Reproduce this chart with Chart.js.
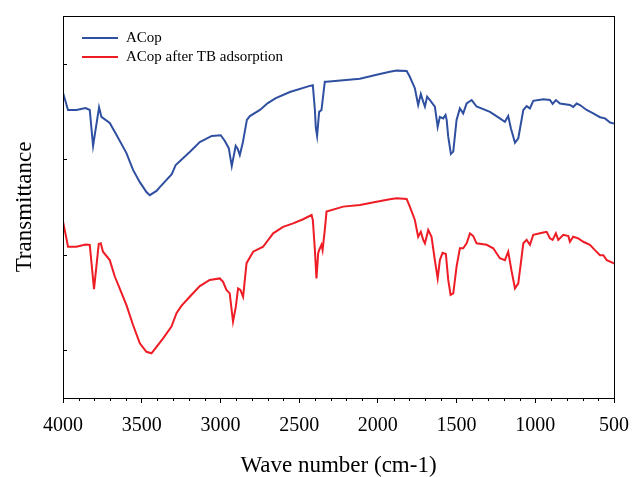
<!DOCTYPE html>
<html><head><meta charset="utf-8">
<script src="https://cdn.jsdelivr.net/npm/chart.js@4/dist/chart.umd.min.js"></script>
<style>html,body{margin:0;padding:0;background:#fff}#wrap{width:633px;height:477px}</style>
</head><body><div id="wrap"><canvas id="c" width="633" height="477"></canvas></div>
<script>
const seriesNames = ['ACop', 'ACop after TB adsorption'];
const seriesColors = ['#2f4fa0', '#ee1c25'];

const wnACop = [4000,3968,3915,3856,3830,3809,3771,3756,3703,3659,3597,3555,3512,3470,3449,3406,3385,3309,3284,3195,3131,3055,2998,2972,2947,2928,2903,2890,2877,2858,2832,2813,2749,2699,2648,2559,2432,2413,2400,2394,2386,2373,2358,2337,2326,2220,2114,2008,1924,1881,1817,1797,1765,1744,1727,1712,1701,1687,1669,1638,1620,1606,1585,1570,1563,1553,1536,1521,1500,1479,1458,1436,1404,1373,1288,1225,1193,1172,1155,1129,1108,1076,1055,1034,1013,949,907,890,869,843,780,759,737,716,674,632,589,557,525,504,500];
const tACop = [79.9,75.4,75.4,75.9,75.4,66.0,76.1,73.6,72.0,68.8,64.1,59.7,56.5,53.9,53.1,54.2,55.2,58.6,61.0,64.4,67.0,68.6,68.8,67.3,65.4,60.7,66.0,65.2,63.6,66.8,72.8,73.8,75.4,77.2,78.5,80.1,81.7,81.9,75.4,70.7,68.6,74.9,75.4,82.8,82.8,83.2,83.6,84.6,85.4,85.7,85.6,84.1,81.1,76.7,79.6,77.6,76.3,78.9,78.0,76.3,71.0,73.6,73.2,74.1,72.8,68.4,63.9,64.5,72.8,75.8,74.5,77.1,78.0,76.3,74.9,73.2,72.3,73.8,70.6,66.8,68.0,75.4,76.4,75.8,77.8,78.2,78.0,77.0,78.0,77.1,76.7,76.2,77.1,76.7,75.4,74.5,73.5,73.2,72.1,71.9,71.8];

const wnTB = [4000,3968,3915,3856,3830,3803,3773,3760,3746,3703,3671,3640,3597,3555,3512,3470,3438,3406,3364,3311,3279,3248,3195,3131,3068,3004,2983,2962,2941,2920,2902,2888,2873,2856,2834,2792,2729,2665,2602,2538,2475,2421,2413,2400,2390,2379,2373,2358,2351,2337,2326,2220,2114,2008,1924,1881,1817,1797,1765,1744,1727,1712,1701,1680,1659,1638,1620,1606,1589,1568,1553,1538,1521,1500,1479,1458,1436,1415,1394,1373,1309,1267,1225,1193,1172,1150,1129,1108,1076,1055,1034,1013,949,928,907,890,869,854,822,790,780,759,727,695,653,621,589,568,546,504,500];
const tTB = [46.2,39.6,39.6,40.2,40.1,28.5,40.3,40.5,38.3,36.1,31.8,28.7,24.3,19.1,14.3,12.1,11.7,13.4,15.6,18.7,22.2,24.1,26.5,29.3,30.9,31.3,30.4,28.3,27.4,20.0,23.9,28.7,28.3,26.5,35.3,38.3,39.6,43.1,44.8,45.7,46.8,47.9,46.6,38.7,31.3,37.9,38.7,40.1,38.7,44.0,48.8,50.1,50.5,51.4,52.0,52.3,52.1,50.1,46.6,42.2,43.5,41.4,40.5,44.0,42.2,36.1,31.3,36.1,38.0,37.7,30.9,27.0,27.4,34.4,39.2,39.2,40.5,43.1,42.4,40.5,40.1,39.2,36.6,36.1,38.3,33.1,28.7,30.0,40.5,41.4,40.1,42.7,43.3,43.5,41.8,41.4,43.1,41.4,42.7,42.4,40.9,42.2,41.8,40.9,40.1,38.7,37.4,37.4,36.1,35.3,35.2];

const xMajorTicks = [4000, 3500, 3000, 2500, 2000, 1500, 1000, 500];
const xMinorStep = 100;
const yTickValues = [12.5, 37.5, 62.5, 87.5];
const xTitle = 'Wave number (cm-1)';
const yTitle = 'Transmittance';

const serif = '"Liberation Serif", "Times New Roman", serif';

function toPoints(xs, ys) {
  const n = Math.min(xs.length, ys.length);
  const out = [];
  for (let i = 0; i < n; i++) out.push({x: xs[i], y: ys[i]});
  return out;
}

const framePlugin = {
  id: 'frame',
  afterDraw(chart) {
    const {ctx, chartArea: a, scales: {x, y}} = chart;
    ctx.save();
    ctx.strokeStyle = '#000';
    ctx.lineWidth = 1;
    ctx.strokeRect(Math.round(a.left) + 0.5, Math.round(a.top) + 0.5,
                   Math.round(a.right - a.left), Math.round(a.bottom - a.top));
    ctx.beginPath();
    for (let v = x.min + xMinorStep; v < x.max; v += xMinorStep) {
      if (xMajorTicks.includes(v)) continue;
      const px = Math.round(x.getPixelForValue(v)) + 0.5;
      ctx.moveTo(px, a.bottom);
      ctx.lineTo(px, a.bottom + 3);
    }
    yTickValues.forEach(v => {
      const py = Math.round(y.getPixelForValue(v)) + 0.5;
      ctx.moveTo(a.left, py);
      ctx.lineTo(a.left + 4, py);
    });
    ctx.stroke();
    ctx.font = '15px ' + serif;
    ctx.textBaseline = 'middle';
    ctx.textAlign = 'left';
    chart.data.datasets.forEach((ds, i) => {
      const ly = a.top + 22 + i * 19;
      ctx.strokeStyle = ds.borderColor;
      ctx.lineWidth = 2;
      ctx.beginPath();
      ctx.moveTo(a.left + 19, ly);
      ctx.lineTo(a.left + 55, ly);
      ctx.stroke();
      ctx.fillStyle = '#000';
      ctx.fillText(ds.label, a.left + 63, ly);
    });
    ctx.restore();
  }
};

new Chart(document.getElementById('c'), {
  type: 'line',
  data: {
    datasets: [
      {label: seriesNames[0], data: toPoints(wnACop, tACop), borderColor: seriesColors[0], backgroundColor: seriesColors[0], borderWidth: 2, pointRadius: 0, tension: 0, fill: false},
      {label: seriesNames[1], data: toPoints(wnTB, tTB), borderColor: seriesColors[1], backgroundColor: seriesColors[1], borderWidth: 2, pointRadius: 0, tension: 0, fill: false}
    ]
  },
  options: {
    responsive: false,
    animation: false,
    devicePixelRatio: 1,
    layout: {padding: {top: 16, right: 19, left: 0, bottom: 0}},
    plugins: {legend: {display: false}, tooltip: {enabled: false}},
    scales: {
      x: {
        type: 'linear', position: 'bottom', reverse: true, min: 500, max: 4000,
        afterBuildTicks: s => { s.ticks = xMajorTicks.map(v => ({value: v})); },
        afterFit: s => { s.height = 79; s.paddingLeft = 0; s.paddingRight = 0; },
        ticks: {font: {family: serif, size: 20}, color: '#000', padding: 11, maxRotation: 0, autoSkip: false,
                callback: v => String(v)},
        grid: {display: true, drawOnChartArea: false, drawTicks: true, tickLength: 5, color: '#000'},
        border: {display: false},
        title: {display: true, text: xTitle, color: '#000', font: {family: serif, size: 23, lineHeight: 1}, padding: {top: 0, bottom: 0}}
      },
      y: {
        type: 'linear', position: 'left', min: 0, max: 100,
        afterBuildTicks: s => { s.ticks = yTickValues.map(v => ({value: v})); },
        afterFit: s => { s.width = 63; },
        ticks: {display: false},
        grid: {display: false},
        border: {display: false},
        title: {display: true, text: yTitle, color: '#000', font: {family: serif, size: 23, lineHeight: 1}, padding: {top: 13, bottom: 0}}
      }
    }
  },
  plugins: [framePlugin]
});
</script>
</body></html>
